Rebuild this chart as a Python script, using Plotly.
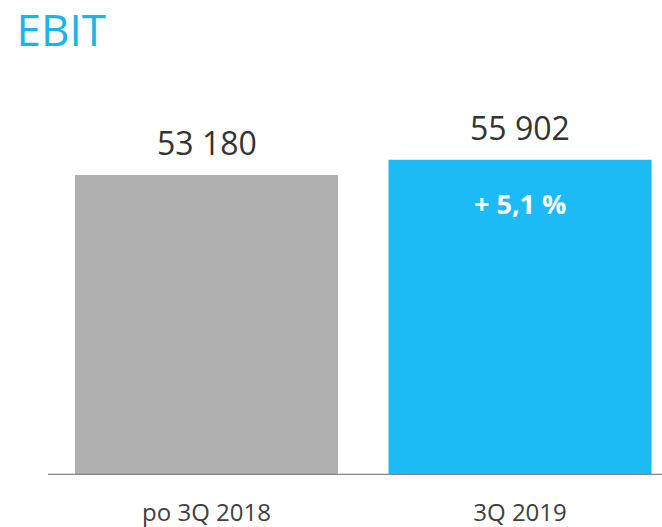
import plotly.graph_objects as go

categories = ["po 3Q 2018", "3Q 2019"]
values = [53180, 55902]
value_labels = ["53 180", "55 902"]
change_label = "+ 5,1 %"
bar_colors = ["#B0B0B0", "#1CBBF6"]

FONT = "Open Sans, Lato, sans-serif"

fig = go.Figure()
fig.add_trace(go.Bar(
    x=list(range(len(categories))),
    y=values,
    marker=dict(color=bar_colors, line=dict(width=0)),
    hoverinfo="skip",
))

for i, (v, lab) in enumerate(zip(values, value_labels)):
    fig.add_annotation(x=i, y=v, text=lab, showarrow=False, xanchor="center",
                       yanchor="bottom", yshift=9,
                       font=dict(family=FONT, size=32, color="#333333"))

fig.add_annotation(x=1, y=values[1], text="<b>" + change_label + "</b>", showarrow=False,
                   xanchor="center", yanchor="middle", yshift=-44,
                   font=dict(family=FONT, size=27, color="#FFFFFF"))

fig.update_layout(
    width=662, height=527,
    margin=dict(l=48, r=0, t=24, b=52),
    paper_bgcolor="white", plot_bgcolor="white",
    showlegend=False,
    bargap=0.161,
    title=dict(text="EBIT", x=0.025, xref="container", xanchor="left",
               y=1 - 31 / 527, yref="container", yanchor="middle",
               font=dict(family=FONT, size=44, color="#1BB4EA")),
    xaxis=dict(range=[-0.5056, 1.4529], tickmode="array",
               tickvals=list(range(len(categories))), ticktext=categories,
               showgrid=False, zeroline=False, showline=False, ticks="",
               ticklabelstandoff=21, automargin=False,
               tickfont=dict(family=FONT, size=24, color="#404040")),
    yaxis=dict(range=[0, 79950], visible=False, showgrid=False, zeroline=False),
    shapes=[dict(type="line", xref="paper", yref="y", x0=0, x1=1, y0=0, y1=0,
                 line=dict(color="#8A8580", width=2.5))],
)

fig.write_html("out.html", config={"displayModeBar": False},
               post_script="document.body.style.margin='0';document.body.style.padding='0';")
